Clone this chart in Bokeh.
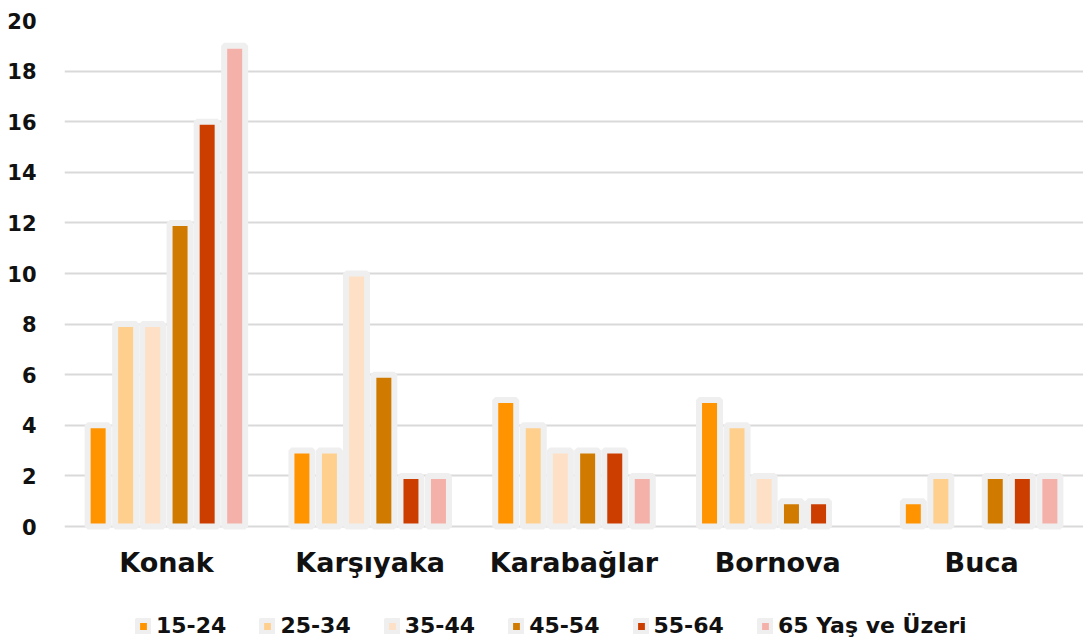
from bokeh.plotting import figure
from bokeh.models import ColumnDataSource, Legend, LegendItem, FactorRange
from bokeh.core.properties import value
from bokeh.transform import dodge
from bokeh.embed import file_html
from bokeh.resources import INLINE

districts = ["Konak", "Karşıyaka", "Karabağlar", "Bornova", "Buca"]
age_groups = ["15-24", "25-34", "35-44", "45-54", "55-64", "65 Yaş ve Üzeri"]
v_15_24 = [4, 3, 5, 5, 1]
v_25_34 = [8, 3, 4, 4, 2]
v_35_44 = [8, 10, 3, 2, 0]
v_45_54 = [12, 6, 3, 1, 2]
v_55_64 = [16, 2, 3, 1, 2]
v_65_plus = [19, 2, 2, 0, 2]
series = [v_15_24, v_25_34, v_35_44, v_45_54, v_55_64, v_65_plus]
colors = ["#FF9400", "#FFCF8E", "#FDE0C6", "#D07A00", "#CC3E00", "#F4B1A9"]
y_ticks = list(range(0, 21, 2))

FONT = "DejaVu Sans"

# frame extends below zero so category labels and legend sit inside it
px_per_unit = 506 / 20.0
frame_h = 620
y_start = -(frame_h - 506) / px_per_unit

p = figure(x_range=FactorRange(*districts), y_range=(y_start, 20),
           frame_width=1019, frame_height=frame_h,
           output_backend="svg", toolbar_location=None,
           min_border_left=64, min_border_right=0, min_border_top=20, min_border_bottom=0)
p.outline_line_color = None
p.background_fill_color = "white"
p.border_fill_color = "white"

offsets = [-0.335, -0.2, -0.067, 0.067, 0.2, 0.335]
items = []
for name, vals, col, off in zip(age_groups, series, colors, offsets):
    xs = [d for d, v in zip(districts, vals) if v > 0]
    ys = [v for v in vals if v > 0]
    src = ColumnDataSource(dict(x=xs, top=ys))
    r = p.vbar(x=dodge("x", off, range=p.x_range), top="top", width=0.103, source=src,
               fill_color=col, line_color="#EFEFEF", line_width=6)
    items.append(LegendItem(label=name, renderers=[r]))

# category labels under the baseline
lab_src = ColumnDataSource(dict(x=districts, y=[-36 / px_per_unit] * len(districts)))
p.text(x="x", y="y", text="x", source=lab_src, text_align="center", text_baseline="middle",
       text_font=value(FONT), text_font_style="bold", text_font_size="27px",
       text_color="#111111")

p.ygrid.grid_line_color = "#D9D9D9"
p.ygrid.grid_line_width = 2
p.ygrid.ticker = y_ticks
p.xgrid.grid_line_color = None
p.xaxis.visible = False

p.yaxis.ticker = y_ticks
p.yaxis.axis_line_color = None
p.yaxis.major_tick_line_color = None
p.yaxis.minor_tick_line_color = None
p.yaxis.major_label_text_font = FONT
p.yaxis.major_label_text_font_style = "bold"
p.yaxis.major_label_text_font_size = "21px"
p.yaxis.major_label_text_color = "#111111"
p.yaxis.major_label_standoff = 22

legend = Legend(items=items, orientation="horizontal", location=(71, 2),
                label_text_font=FONT, label_text_font_style="bold",
                label_text_font_size="22px", label_text_color="#111111",
                glyph_width=16, glyph_height=16, spacing=33, label_standoff=5,
                border_line_color=None, background_fill_alpha=0, margin=0, padding=2)
p.add_layout(legend)

open("out.html", "w").write(file_html(p, INLINE))
